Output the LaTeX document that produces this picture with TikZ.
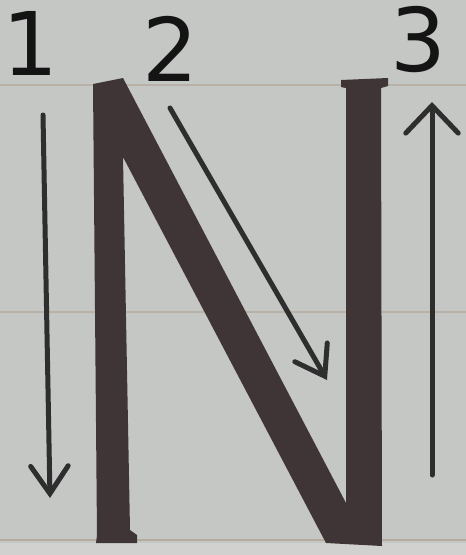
\documentclass[tikz,border=0pt]{standalone}
\usepackage{fontspec}
\setmainfont{DejaVu Sans}
\usetikzlibrary{arrows.meta}
\definecolor{paper}{HTML}{C5C7C4}
\definecolor{rule}{HTML}{B5AC9F}
\definecolor{ink}{HTML}{3F3436}
\definecolor{pencil}{HTML}{2F2E2F}

\begin{document}
\begin{tikzpicture}[x=0.02cm, y=-0.02cm,
  num/.style={font=\fontsize{50}{50}\selectfont, text=black!92, inner sep=0pt},
  guide/.style={draw=pencil, line width=0.1cm, line cap=round,
    -{Straight Barb[length=0.55cm, width=0.75cm, line cap=round]}}
]
\fill[paper] (0,0) rectangle (466,555);
\useasboundingbox (0,0) rectangle (466,555);
% ruled lines of the sheet
\draw[rule!80!paper, line width=0.04cm] (0,85) -- (466,85);
\draw[rule!80!paper, line width=0.04cm] (0,312) -- (466,312);
\draw[rule, line width=0.05cm] (0,540) -- (466,540);
\fill[paper!80!white] (0,543) rectangle (466,555);
% the letter N
\fill[ink] (93,84) -- (123,78) -- (346,503) -- (346,88) -- (341,87) -- (341,80)
  -- (388,78) -- (388,86) -- (381,88) -- (382,546) -- (326,543) -- (123,157)
  -- (130,530) -- (137,535) -- (137,543) -- (96,543) -- (97,535) -- cycle;
% stroke numbers
\node[num] (n1) at (30,43) {1};
\node[num] (n2) at (170,49) {2};
\node[num] (n3) at (418,40) {3};
% stroke arrows
\coordinate (a1) at (43,115);
\coordinate (b1) at (50,498);
\coordinate (a2) at (170,108);
\coordinate (b2) at (327,380);
\coordinate (a3) at (432,475);
\coordinate (b3) at (432,102);
\draw[guide] (a1) -- (b1);
\draw[guide] (a2) -- (b2);
\draw[guide, -{Straight Barb[length=0.55cm, width=1.05cm, line cap=round]}] (a3) -- (b3);
\end{tikzpicture}
\end{document}
